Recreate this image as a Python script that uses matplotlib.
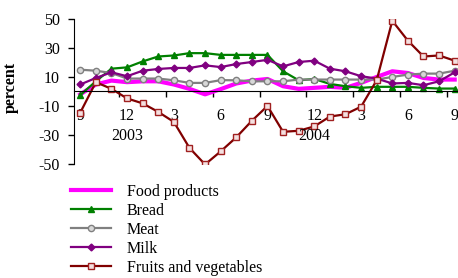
import numpy as np
import matplotlib
matplotlib.use("Agg")
import matplotlib.pyplot as plt

# --- Data (monthly, Sept 2002 .. Sept 2004) ---
food = [-2, 4.8, 7.5, 6.4, 7, 7, 4.8, 1.8, -2, 1.6, 5.5, 7.5, 8.6, 3.6, 1.8,
        2.5, 3.2, 2.5, 5.9, 10, 13.9, 12.7, 9.3, 8.2, 8.2]
bread = [-2.5, 7, 15.7, 16.6, 20.7, 24.1, 24.8, 26.4, 26.4, 25.2, 25.2, 25.2,
         25.2, 13.9, 7.7, 8.6, 5.2, 3.6, 2.5, 3.2, 3.2, 3.2, 2.5, 2, 2]
meat = [15, 14.3, 12.7, 8.9, 8.9, 8.9, 7.7, 5.9, 5.9, 7.8, 7.7, 7, 7, 7, 8.2,
        8.2, 8.2, 8.2, 8.2, 8.2, 10, 11.6, 12.3, 12.3, 14.3]
milk = [4.8, 9.3, 13.2, 10.5, 14.3, 15.5, 16.2, 16.2, 18, 16.8, 18.9, 20.3,
        21.8, 17.3, 20.3, 21.2, 15.7, 13.9, 10.5, 8.9, 5.5, 5.9, 4.3, 7, 13.2]
fruits = [-14.6, 6.4, 1.8, -4.8, -8.2, -14.1, -21, -38.9, -50.3, -41.3, -31.6,
          -20.2, -10, -27.8, -27.1, -24.1, -17.3, -15.7, -10.5, 7.7, 48.7, 35,
          24.1, 24.8, 21.2]
month_labels = ['9', '12', '3', '6', '9', '12', '3', '6', '9']
year_labels = ['2003', '2004']
year_pos = [3, 15]

plt.rcParams['font.family'] = ['Liberation Serif', 'DejaVu Serif']
plt.rcParams['font.size'] = 11.5
plt.rcParams['axes.unicode_minus'] = False

x = np.arange(len(food))

fig = plt.figure(figsize=(4.58, 2.78), dpi=100)
ax = fig.add_axes([0.1616, 0.41, 0.838, 0.522])

ax.plot(x, food, color='#FF00FF', lw=3.0, label='Food products')
ax.plot(x, bread, color='#008000', lw=1.6, marker='^', ms=5,
        mfc='#008000', mec='#008000', label='Bread')
ax.plot(x, meat, color='#808080', lw=1.6, marker='o', ms=4.5,
        mfc='#d8d8d8', mec='#808080', label='Meat')
ax.plot(x, milk, color='#800080', lw=1.6, marker='D', ms=3.5,
        mfc='#800080', mec='#800080', label='Milk')
ax.plot(x, fruits, color='#800000', lw=1.6, marker='s', ms=4.5,
        mfc='#f4e0e0', mec='#a02020', label='Fruits and vegetables')

ax.set_xlim(-0.4, 24.2)
ax.set_ylim(-50, 50)

# axes styling
for s in ['top', 'right']:
    ax.spines[s].set_visible(False)
ax.spines['bottom'].set_position(('data', 0))
ax.spines['left'].set_bounds(-50, 50)

ax.set_yticks([50, 30, 10, -10, -30, -50])
ax.tick_params(axis='y', direction='out', length=4, width=1, pad=6)

ax.set_xticks(np.arange(0, 25, 3), month_labels)
ax.set_xticks(np.arange(2.5, 24, 3), minor=True)
ax.tick_params(axis='x', which='major', length=0, pad=12)
ax.tick_params(axis='x', which='minor', direction='out', length=4, width=1)

for lab, p in zip(year_labels, year_pos):
    ax.text(p, -30.7, lab, ha='center', va='center')

ax.set_ylabel('percent', fontweight='bold')
ax.yaxis.set_label_coords(-0.145, 0.53)

fig.legend(loc='upper left', bbox_to_anchor=(0.155, 0.338), frameon=False,
           handlelength=2.5, handletextpad=1.0, labelspacing=0.18,
           borderpad=0, borderaxespad=0, fontsize=11.5)

fig.savefig('out.png', dpi=100)
